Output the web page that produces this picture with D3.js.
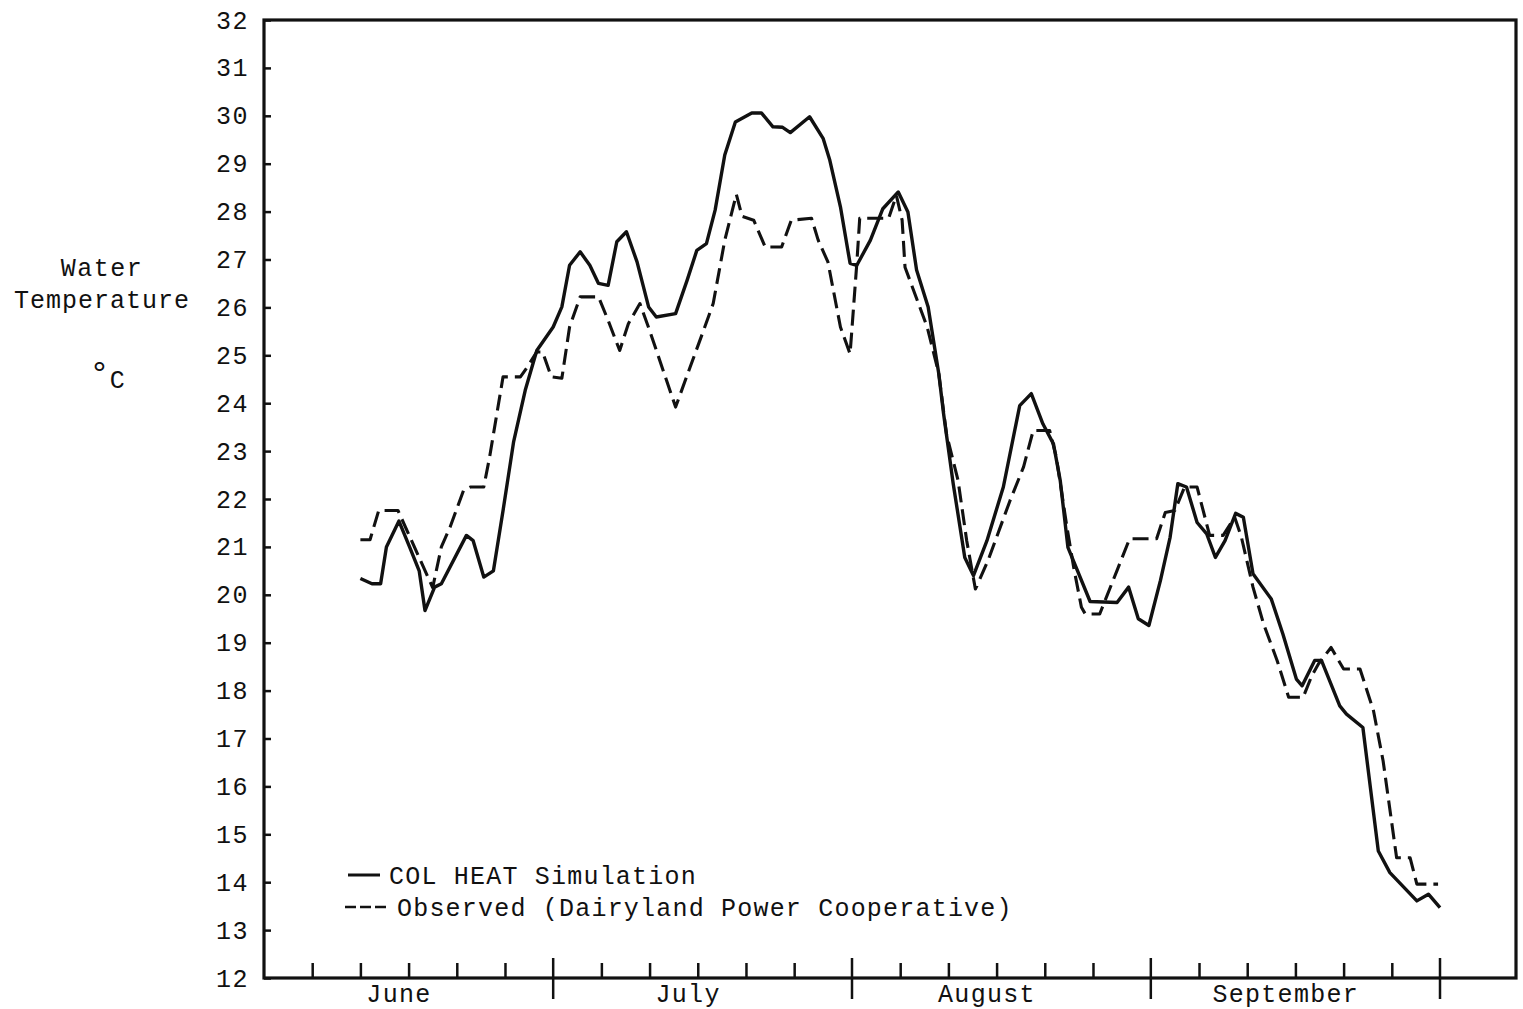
<!DOCTYPE html>
<html>
<head>
<meta charset="utf-8">
<script src="https://cdn.jsdelivr.net/npm/d3@7"></script>
<style>
  body { margin: 0; background: #fff; }
  svg text { font-family: "Liberation Mono", "DejaVu Sans Mono", monospace; fill: #111; }
</style>
</head>
<body>
<div id="chart"></div>
<script>
// days after 1 June
const simDays = [10.0,11.2,12.1,12.7,14.0,15.1,16.1,16.7,17.7,18.4,21.0,21.7,22.8,23.8,24.8,25.9,27.1,28.3,30.0,30.9,
  31.7,32.8,33.8,34.7,35.7,36.6,37.6,38.7,39.9,40.7,42.7,43.9,44.9,45.9,46.8,47.8,48.9,50.6,51.6,52.8,
  53.8,54.6,56.6,58.0,58.7,59.8,60.8,61.5,62.9,64.2,65.8,66.8,67.7,68.9,70.0,70.5,71.5,72.7,73.6,75.0,
  76.7,78.4,79.6,80.8,81.9,82.6,83.4,85.7,88.5,89.7,90.7,91.8,93.0,94.0,94.8,95.7,96.8,97.8,98.7,99.7,
  100.8,101.6,102.6,104.5,105.7,107.1,107.7,109.0,109.7,111.6,112.3,114.0,115.6,116.8,119.6,120.8,122.0];
const simTemp = [20.34,20.23,20.23,21.0,21.54,21.0,20.5,19.67,20.16,20.23,21.24,21.13,20.37,20.5,21.76,23.2,24.27,25.1,25.59,26.01,
  26.88,27.16,26.88,26.5,26.46,27.37,27.58,26.95,26.01,25.8,25.87,26.57,27.19,27.33,28.03,29.18,29.87,30.06,30.06,29.77,
  29.76,29.65,29.98,29.53,29.07,28.1,26.92,26.88,27.4,28.06,28.41,27.99,26.78,26.01,24.62,23.78,22.32,20.78,20.4,21.13,
  22.25,23.95,24.2,23.57,23.15,22.39,20.99,19.86,19.84,20.16,19.5,19.36,20.3,21.2,22.32,22.25,21.51,21.27,20.78,21.13,
  21.7,21.62,20.44,19.91,19.18,18.24,18.1,18.63,18.63,17.68,17.51,17.23,14.65,14.2,13.61,13.75,13.47];

const obsDays = [10.0,11.0,11.9,13.9,17.5,18.4,19.3,20.7,21.4,22.8,23.4,24.8,26.6,27.3,28.3,28.9,29.8,30.9,31.7,32.8,
  34.7,35.7,36.9,37.8,39.0,40.0,41.4,42.7,44.2,45.6,46.6,47.8,49.0,49.6,50.8,52.0,53.7,54.7,56.8,57.5,
  58.5,59.8,60.8,61.5,61.8,64.8,65.6,66.2,66.5,68.8,70.0,70.8,72.0,72.9,73.8,75.1,77.4,78.8,79.8,81.5,
  82.2,83.3,84.0,84.8,85.2,86.7,88.5,89.8,92.6,93.5,94.5,95.5,96.8,98.1,99.5,100.7,101.4,102.6,103.7,105.1,
  106.3,107.8,108.7,109.4,110.7,112.0,113.7,115.1,116.1,117.5,118.9,119.6,121.8];
const obsTemp = [21.15,21.15,21.76,21.76,20.15,21.0,21.41,22.18,22.25,22.25,22.87,24.55,24.55,24.75,25.07,25.07,24.55,24.52,25.59,26.22,
  26.22,25.73,25.1,25.66,26.08,25.52,24.69,23.92,24.75,25.52,26.08,27.4,28.36,27.9,27.82,27.26,27.26,27.82,27.86,27.4,
  26.95,25.59,25.03,26.92,27.86,27.86,28.34,27.82,26.84,25.59,24.62,23.36,22.39,21.13,20.12,20.71,21.97,22.67,23.43,23.43,
  22.87,21.41,20.57,19.74,19.6,19.6,20.51,21.17,21.17,21.72,21.76,22.25,22.25,21.24,21.24,21.62,21.2,20.16,19.39,18.63,
  17.86,17.86,18.31,18.56,18.9,18.45,18.45,17.58,16.53,14.51,14.51,13.96,13.96];

const months = ["June", "July", "August", "September"];
const minorDays = [6, 11, 16, 21, 26];
const tempTicks = [12,13,14,15,16,17,18,19,20,21,22,23,24,25,26,27,28,29,30,31,32];

const width = 1523, height = 1009;
const frame = { left: 264, top: 20, right: 1516, bottom: 978 };
const year = 1977;
const start = new Date(year, 5, 1);
const dayToDate = d => new Date(start.getTime() + d * 864e5);

const svg = d3.select("#chart").append("svg")
  .attr("width", width)
  .attr("height", height);

// scales
const x = d3.scaleTime()
  .domain([start, new Date(year, 9, 1)])
  .range([264, 1440]);
const y = d3.scaleLinear()
  .domain([12, 32])
  .range([frame.bottom, frame.top]);

// y axis, ticks point inward
const yAxis = svg.append("g")
  .attr("transform", `translate(${frame.left},0)`)
  .call(d3.axisLeft(y).tickValues(tempTicks).tickSize(-7).tickPadding(15).tickFormat(d3.format("d")));
yAxis.select(".domain").remove();
yAxis.selectAll("line").attr("stroke", "#111").attr("stroke-width", 2.5);
yAxis.selectAll("text")
  .attr("font-size", 25)
  .attr("letter-spacing", 1.5)
  .attr("font-family", null);

// x axis: small ticks every 5 days, long ticks at month starts
const minorTicks = months.flatMap((m, i) => minorDays.map(d => new Date(year, 5 + i, d)));
const majorTicks = d3.range(1, months.length + 1).map(i => new Date(year, 5 + i, 1));

const xAxis = svg.append("g")
  .attr("transform", `translate(0,${frame.bottom})`)
  .call(d3.axisBottom(x).tickValues(minorTicks).tickSize(-15).tickFormat(""));
xAxis.select(".domain").remove();
xAxis.selectAll("line").attr("stroke", "#111").attr("stroke-width", 2.5);

svg.append("g").selectAll("line")
  .data(majorTicks)
  .join("line")
  .attr("x1", d => x(d)).attr("x2", d => x(d))
  .attr("y1", frame.bottom - 20).attr("y2", frame.bottom + 21)
  .attr("stroke", "#111").attr("stroke-width", 2.5);

svg.append("g").selectAll("text")
  .data(months)
  .join("text")
  .attr("x", (m, i) => x(d3.timeHour.offset(new Date(year, 5 + i, 1), 14 * 24)))
  .attr("y", 1002)
  .attr("text-anchor", "middle")
  .attr("font-size", 25)
  .attr("letter-spacing", 1.3)
  .text(d => d);

// frame
svg.append("rect")
  .attr("x", frame.left).attr("y", frame.top)
  .attr("width", frame.right - frame.left)
  .attr("height", frame.bottom - frame.top)
  .attr("fill", "none")
  .attr("stroke", "#111")
  .attr("stroke-width", 3.2);

// lines
const line = d3.line()
  .x(d => x(dayToDate(d[0])))
  .y(d => y(d[1]));

svg.append("path")
  .datum(d3.zip(simDays, simTemp))
  .attr("d", line)
  .attr("fill", "none")
  .attr("stroke", "#111")
  .attr("stroke-width", 3.4)
  .attr("stroke-linejoin", "round");

svg.append("path")
  .datum(d3.zip(obsDays, obsTemp))
  .attr("d", line)
  .attr("fill", "none")
  .attr("stroke", "#111")
  .attr("stroke-width", 3.1)
  .attr("stroke-dasharray", "16,7")
  .attr("stroke-linejoin", "round");

// y title
const title = svg.append("g")
  .attr("font-size", 25)
  .attr("text-anchor", "middle");
title.append("text").attr("x", 102).attr("y", 276).attr("letter-spacing", 1.5).text("Water");
title.append("text").attr("x", 102).attr("y", 308).attr("letter-spacing", 1).text("Temperature");
const unit = title.append("text").attr("x", 107).attr("y", 388);
unit.append("tspan").attr("font-size", 34).attr("dy", -4).text("°");
unit.append("tspan").attr("dy", 4).text("C");

// legend
const legend = svg.append("g").attr("font-size", 25).attr("letter-spacing", 1.2);
legend.append("line")
  .attr("x1", 348).attr("x2", 380).attr("y1", 875).attr("y2", 875)
  .attr("stroke", "#111").attr("stroke-width", 3);
legend.append("text").attr("x", 389).attr("y", 884).text("COL HEAT Simulation");
legend.append("line")
  .attr("x1", 345).attr("x2", 388).attr("y1", 907).attr("y2", 907)
  .attr("stroke", "#111").attr("stroke-width", 2.5)
  .attr("stroke-dasharray", "11,4");
legend.append("text").attr("x", 397).attr("y", 916).text("Observed (Dairyland Power Cooperative)");
</script>
</body>
</html>
